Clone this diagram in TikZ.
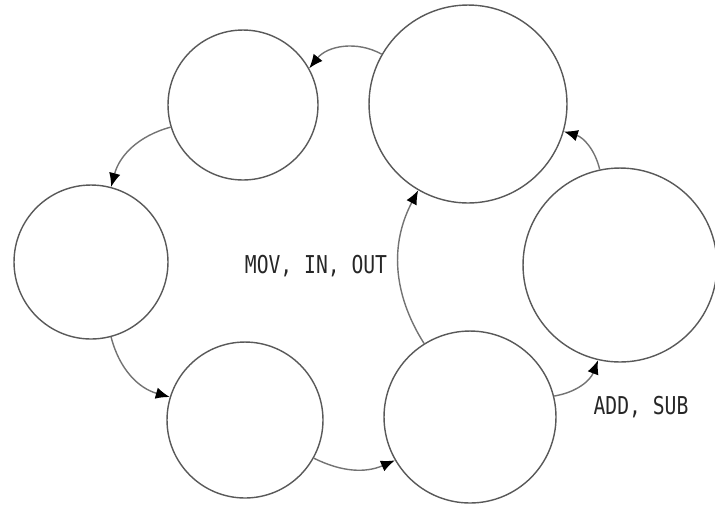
\documentclass[tikz,border=0pt]{standalone}
\usepackage{fontspec}
\newfontfamily\opfont[FakeStretch=0.8]{DejaVu Sans Mono}
\usetikzlibrary{arrows.meta}

\begin{document}
\begin{tikzpicture}[
  x=0.02cm, y=-0.02cm,
  stage/.style={circle, draw=black!65, line width=0.8pt, fill=white, inner sep=0pt},
  arr/.style={-{Latex[black, length=2.8mm, width=2.3mm]}, draw=black!55, line width=0.8pt},
  lbl/.style={font=\opfont\fontsize{14}{16}\selectfont, text=black!85}
]
\useasboundingbox (0,0) rectangle (715,505);

% the six stages
\node[stage, minimum size=3cm]    (tl) at (243,105) {};
\node[stage, minimum size=3.96cm] (tr) at (468,104) {};
\node[stage, minimum size=3.08cm] (lt) at (91,262)  {};
\node[stage, minimum size=3.12cm] (bl) at (245,420) {};
\node[stage, minimum size=3.44cm] (br) at (470,417) {};
\node[stage, minimum size=3.88cm] (rt) at (620,265) {};

% cycle
\draw[arr] (tr.150) to[bend right=40] (tl.29);
\draw[arr] (tl.197) to[bend right=30] (lt.75);
\draw[arr] (lt.285) to[bend right=30] (bl.163);
\draw[arr] (bl.331) to[bend right=25] (br.210);
\draw[arr] (br.14)  to[bend right=30] (rt.257);
\draw[arr] (rt.102) to[bend right=30] (tr.344);
\draw[arr] (br.122) to[bend left=30]  (tr.240);

\node[lbl] (mov) at (316,266) {MOV, IN, OUT};
\node[lbl] (add) at (641,407) {ADD, SUB};
\end{tikzpicture}
\end{document}
